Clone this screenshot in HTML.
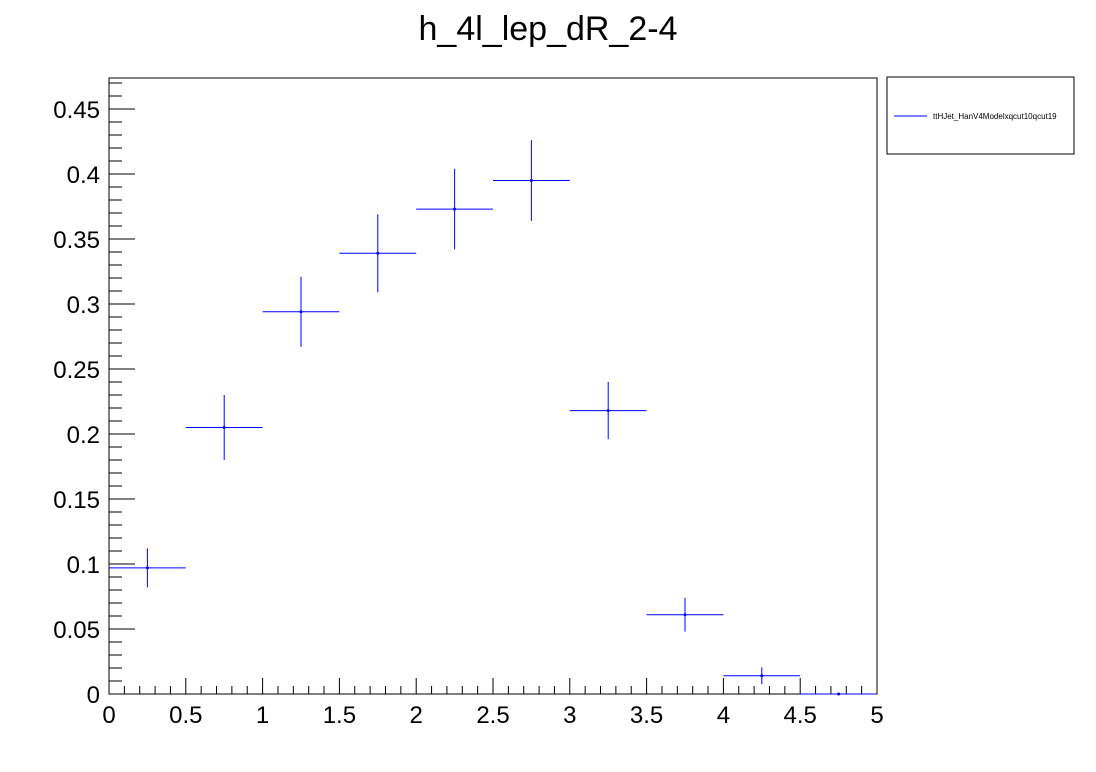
<!DOCTYPE html>
<html><head><meta charset="utf-8"><style>
body{margin:0;background:#fff;}
svg{display:block;font-family:"Liberation Sans",sans-serif;}
</style></head><body>
<svg id="c" width="1096" height="772">
<text x="548" y="40" font-size="34" text-anchor="middle">h_4l_lep_dR_2-4</text>
<rect x="109" y="78" width="768" height="616" fill="none" stroke="#000"/>
<g id="legend">
<rect x="887" y="77" width="187" height="77" fill="#fff" stroke="#000"/>
<line x1="894" y1="116" x2="927" y2="116" stroke="#0000ff"/>
<text x="933" y="119" font-size="8">ttHJet_HanV4Modelxqcut10qcut19</text>
</g>
<g id="axes"></g>
<g id="marks"></g>
</svg>
<script>
const binLow = [0,0.5,1,1.5,2,2.5,3,3.5,4,4.5];
const values = [0.097,0.205,0.294,0.339,0.373,0.395,0.218,0.061,0.014,0.0];
const errors = [0.015,0.025,0.027,0.030,0.031,0.031,0.022,0.013,0.0065,0];
const xTicks = ["0","0.5","1","1.5","2","2.5","3","3.5","4","4.5","5"];
const yTicks = ["0","0.05","0.1","0.15","0.2","0.25","0.3","0.35","0.4","0.45"];
const X0=109,X1=877,Y0=694,Y1=78,xmax=5,ymax=(694-78)/1300;
const sx=v=>X0+v/xmax*(X1-X0), sy=v=>Y0-v/ymax*(Y0-Y1);
const NS="http://www.w3.org/2000/svg";
function mk(tag,attrs,parent){const e=document.createElementNS(NS,tag);for(const k in attrs)e.setAttribute(k,attrs[k]);parent.appendChild(e);return e;}
const ax=document.getElementById('axes'), mg=document.getElementById('marks');
// x ticks
for(let i=0;i<=50;i++){const v=i*0.1;const x=sx(v);const major=i%5===0;
 const t=mk('line',{x1:x,y1:Y0,x2:x,y2:Y0-(major?16:8),stroke:'#000'},ax);
 
 }
xTicks.forEach(s=>{const t=mk('text',{x:sx(parseFloat(s)),y:723,'font-size':24,'text-anchor':'middle'},ax);t.textContent=s;
 
 });
// y ticks
for(let i=0;i*0.01<=ymax;i++){const v=i*0.01;const y=sy(v);const major=i%5===0;
 const t=mk('line',{x1:X0,y1:y,x2:X0+(major?26:13),y2:y,stroke:'#000'},ax);
 
 }
yTicks.forEach(s=>{const t=mk('text',{x:100,y:sy(parseFloat(s))+9,'font-size':24,'text-anchor':'end'},ax);t.textContent=s;
 
 });
// data
binLow.forEach((lo,i)=>{const v=values[i],e=errors[i];const xc=sx(lo+0.25),y=sy(v);
 const h=mk('line',{x1:sx(lo),y1:y,x2:sx(lo+0.5),y2:y,stroke:'#0000ff'},mg);
 
 
 if(e>0){const vl=mk('line',{x1:xc,y1:sy(v+e),x2:xc,y2:sy(v-e),stroke:'#0000ff'},mg);
 
 }
 const p=mk('circle',{cx:xc,cy:y,r:1.5,fill:'#0000ff'},mg);
 
 
});
</script>
</body></html>
